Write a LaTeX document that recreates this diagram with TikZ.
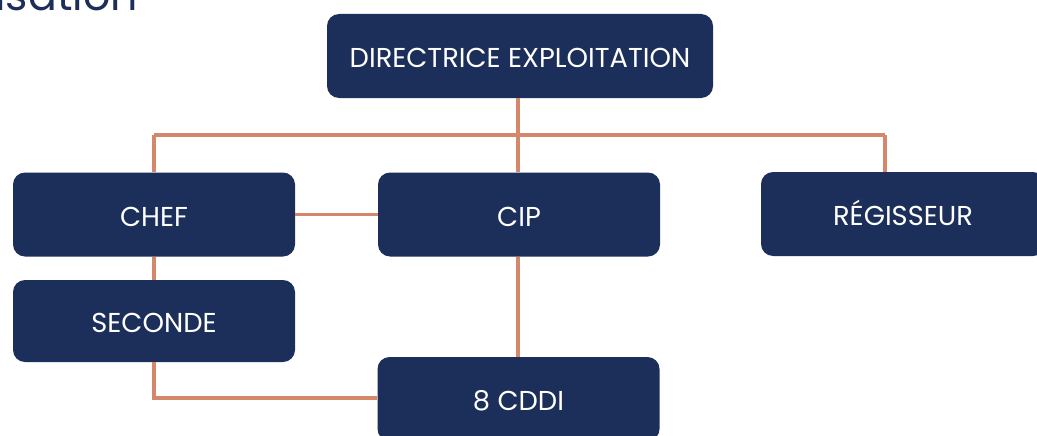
\documentclass[tikz,border=0pt]{standalone}
\usepackage{fontspec}
\setmainfont{Poppins}
\definecolor{navy}{HTML}{1C2E5A}
\definecolor{salmon}{HTML}{D4876A}
\tikzset{
  box/.style={fill=navy, draw=none, rounded corners=9pt, text=white,
    minimum width=211.5pt, minimum height=63pt, inner sep=0pt,
    text height=17.5pt, text depth=0pt,
    font=\fontsize{20.5}{24}\selectfont},
  link/.style={draw=salmon, line width=2.4pt}
}
\begin{document}
\begin{tikzpicture}[x=0.75pt,y=-0.75pt]
\useasboundingbox (0,0) rectangle (1037,435);
\node[anchor=base east, text=navy, font=\fontsize{32}{36}\selectfont, inner sep=0pt] (title) at (138,11) {Organisation};
\coordinate (hl) at (154,135);
\coordinate (hm) at (518,135);
\coordinate (hr) at (885,135);
\coordinate (sb) at (154,398);
\node[box, minimum width=289.5pt] (dir) at (520,56) {DIRECTRICE EXPLOITATION};
\node[box] (chef) at (154,214.5) {CHEF};
\node[box] (cip) at (519,214.5) {CIP};
\node[box, minimum width=213pt] (reg) at (903,214) {RÉGISSEUR};
\node[box, minimum height=61.5pt] (sec) at (154,321) {SECONDE};
\node[box] (cddi) at (518.5,399) {8 CDDI};
\draw[link] (dir.south -| hm) -- (hm);
\draw[link] (hl) -- (hr);
\draw[link] (hl) -- (chef.north -| hl);
\draw[link] (hm) -- (cip.north -| hm);
\draw[link] (hr) -- (reg.north -| hr);
\draw[link] (chef.east) -- (cip.west);
\draw[link] (chef.south) -- (sec.north);
\draw[link] (sec.south) -- (sb) -- (cddi.west |- sb);
\draw[link] (cip.south -| hm) -- (cddi.north -| hm);
\end{tikzpicture}
\end{document}
